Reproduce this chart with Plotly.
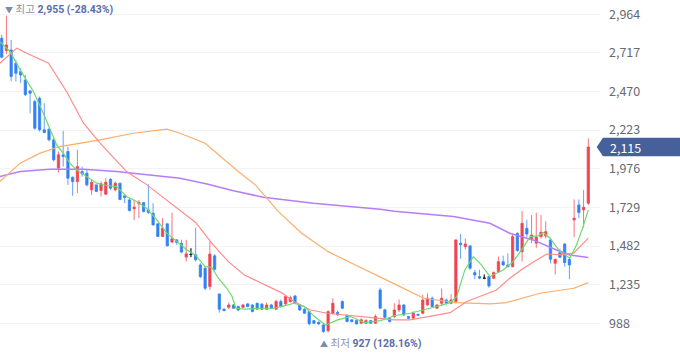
import plotly.graph_objects as go

# ---------------- data ----------------
opens = [2811, 2732, 2736, 2651, 2598, 2544, 2474, 2406, 2427, 2225,
         2229, 2161, 1980, 2065, 2086, 1922, 1894, 1958, 1948, 1841,
         1873, 1837, 1813, 1909, 1841, 1884, 1803, 1777, 1720, 1752,
         1760, 1713, 1692, 1624, 1543, 1624, 1507, 1522, 1500, 1411,
         1428, 1426, 1361, 1340, 1223, 1419, 1176, 1078, 1090, 1105,
         1095, 1090, 1112, 1105, 1116, 1110, 1078, 1105, 1078, 1127,
         1112, 1127, 1163, 1105, 1078, 1063, 1005, 995, 977, 940,
         1052, 1058, 1127, 1037, 1010, 1005, 988, 988, 1005, 988,
         1201, 1074, 1020, 1031, 1073, 1105, 1031, 1020, 1045, 1052,
         1105, 1148, 1084, 1116, 1137, 1116, 1127, 1500, 1478, 1483,
         1312, 1287, 1276, 1287, 1276, 1318, 1382, 1361, 1350, 1563,
         1446, 1595, 1525, 1500, 1542, 1546, 1521, 1372, 1440, 1495,
         1397, 1649, 1745, 1713, 1755]
highs = [2832, 2955, 2800, 2672, 2619, 2576, 2474, 2417, 2438, 2395,
         2235, 2172, 2086, 2218, 2118, 1926, 2097, 1990, 1969, 1905,
         1873, 1895, 1916, 1916, 1895, 1884, 1803, 1788, 1777, 1777,
         1760, 1877, 1756, 1628, 1660, 1628, 1696, 1522, 1522, 1522,
         1468, 1600, 1372, 1350, 1510, 1430, 1176, 1085, 1120, 1110,
         1100, 1112, 1118, 1110, 1120, 1118, 1120, 1112, 1140, 1140,
         1170, 1165, 1170, 1112, 1084, 1068, 1010, 1000, 983, 1070,
         1148, 1070, 1135, 1045, 1015, 1010, 1020, 1015, 1010, 1045,
         1215, 1080, 1025, 1116, 1140, 1110, 1035, 1065, 1050, 1170,
         1180, 1160, 1110, 1210, 1145, 1175, 1525, 1560, 1530, 1485,
         1330, 1330, 1300, 1290, 1320, 1415, 1420, 1435, 1560, 1570,
         1706, 1650, 1680, 1695, 1680, 1640, 1530, 1400, 1465, 1500,
         1410, 1780, 1780, 1840, 2170]
lows = [2683, 2710, 2534, 2534, 2523, 2442, 2331, 2225, 2214, 2203,
        2150, 2022, 1952, 1990, 1873, 1803, 1820, 1926, 1862, 1809,
        1826, 1799, 1809, 1841, 1831, 1775, 1756, 1703, 1649, 1660,
        1696, 1688, 1615, 1540, 1540, 1479, 1500, 1490, 1436, 1383,
        1411, 1383, 1276, 1200, 1201, 1325, 1056, 1065, 1078, 1080,
        1065, 1085, 1090, 1058, 1075, 1073, 1073, 1080, 1075, 1090,
        1100, 1120, 1110, 1068, 1048, 975, 985, 978, 927, 930,
        1045, 1035, 1078, 995, 993, 980, 985, 985, 984, 984,
        1080, 1020, 993, 1020, 1060, 1035, 1010, 1015, 1035, 1045,
        1100, 1090, 1080, 1100, 1110, 1110, 1115, 1400, 1460, 1330,
        1270, 1270, 1270, 1215, 1270, 1310, 1355, 1345, 1345, 1445,
        1382, 1540, 1500, 1470, 1530, 1530, 1370, 1300, 1405, 1350,
        1270, 1540, 1660, 1600, 1745]
closes = [2689, 2768, 2566, 2587, 2576, 2449, 2459, 2235, 2225, 2208,
          2161, 2033, 2065, 2054, 1916, 1894, 1990, 1943, 1873, 1890,
          1831, 1880, 1890, 1852, 1884, 1780, 1792, 1709, 1730, 1762,
          1703, 1696, 1617, 1543, 1596, 1483, 1528, 1505, 1443, 1432,
          1428, 1394, 1286, 1212, 1431, 1333, 1078, 1069, 1105, 1084,
          1073, 1105, 1095, 1063, 1078, 1078, 1105, 1084, 1127, 1095,
          1159, 1152, 1116, 1073, 1052, 985, 988, 984, 935, 1063,
          1116, 1042, 1084, 999, 999, 984, 1010, 1005, 988, 1031,
          1084, 1026, 999, 1073, 1105, 1041, 1020, 1052, 1040, 1137,
          1148, 1095, 1105, 1148, 1116, 1137, 1521, 1490, 1495, 1340,
          1297, 1276, 1276, 1227, 1312, 1382, 1361, 1350, 1542, 1453,
          1627, 1559, 1553, 1538, 1570, 1574, 1397, 1397, 1410, 1376,
          1361, 1660, 1696, 1730, 2115]
days = list(range(len(closes)))

# moving-average lines (vertices: day index, price)
ma5_x = [-0.4, 1.75, 3.9, 6.7, 8.8, 10.2, 11.6, 13, 14.4, 15.8, 17.9, 20.1, 22.2, 24.3,
         26.4, 28.5, 30.6, 32.8, 34.9, 37, 39.1, 40.9, 43, 44.4, 45.8, 47.6, 48.7, 49.5,
         51.3, 54.8, 57.6, 59.7, 61.8, 64, 66.1, 68.5, 71, 73.8, 76.6, 80.1, 83, 86.3,
         89.2, 92, 94.8, 96.2, 97.9, 99.7, 101.4, 103.2, 106, 108.1, 109.9, 111.7, 113.4,
         114.5, 115.9, 118, 120.1, 121.5, 122.9, 124]
ma5_y = [2789, 2726, 2608, 2470, 2331, 2225, 2129, 2076, 2012, 1969, 1926, 1884, 1869, 1862,
         1799, 1767, 1724, 1649, 1564, 1511, 1458, 1425, 1350, 1346, 1276, 1212, 1159, 1084,
         1078, 1084, 1084, 1099, 1116, 1095, 1031, 977, 1010, 1031, 992, 1005, 1036, 1052,
         1073, 1095, 1120, 1159, 1329, 1414, 1361, 1287, 1329, 1382, 1457, 1542, 1547,
         1568, 1532, 1446, 1404, 1489, 1606, 1713]
ma20_x = [-0.4, 3.2, 5.3, 9.9, 13.7, 17.3, 20.8, 26.4, 30.7, 36.3, 41, 44.4, 47.9, 51.3,
          54.8, 59.1, 61.8, 65.3, 68.8, 72.4, 75.9, 79.4, 83, 86.3, 90.6, 94.8, 98.3, 101.8,
          104.6, 107.4, 110.3, 113.1, 115.2, 118, 120.9, 124]
ma20_y = [2651, 2747, 2715, 2651, 2470, 2267, 2140, 1958, 1873, 1745, 1633, 1500, 1382, 1297,
          1244, 1184, 1127, 1073, 1052, 1042, 1031, 1020, 1010, 1010, 1031, 1056, 1127, 1169,
          1201, 1276, 1340, 1393, 1431, 1425, 1436, 1532]
ma60_x = [-0.4, 3.9, 8.1, 12.3, 20.8, 27.8, 34.9, 37.7, 43, 50, 53.6, 58.5, 63.4, 69, 74,
          79.6, 83, 89.2, 96.2, 103.2, 106.7, 113.8, 120.9, 124]
ma60_y = [1894, 2012, 2076, 2118, 2161, 2203, 2229, 2203, 2139, 1958, 1873, 1702, 1564, 1446,
          1372, 1287, 1240, 1148, 1120, 1112, 1120, 1180, 1212, 1248]
ma120_x = [-0.4, 3.9, 10.2, 17.3, 24.3, 31.4, 37.7, 43.4, 49, 55.3, 65.9, 80, 83, 95.5,
           103.2, 107.4, 112.3, 117.3, 120.1, 124]
ma120_y = [1926, 1958, 1973, 1973, 1958, 1936, 1915, 1879, 1836, 1794, 1755, 1717, 1704, 1670,
           1627, 1564, 1521, 1457, 1425, 1408]

y_ticks = [988, 1235, 1482, 1729, 1976, 2223, 2470, 2717, 2964]
tick_text = ["988", "1,235", "1,482", "1,729", "1,976", "2,223", "2,470", "2,717", "2,964"]

high_idx, high_val, high_pct = 1, 2955, "-28.43%"
low_idx, low_val, low_pct = 68, 927, "128.16%"
last_val = closes[-1]

# ---------------- figure ----------------
RED = "#f04452"
BLUE = "#3182f6"
FONT = "Noto Sans CJK KR, Noto Sans, sans-serif"
NOTE_FONT = "Roboto, Noto Sans CJK KR, sans-serif"

fig = go.Figure()

for xs, ys, col, w in [(ma120_x, ma120_y, "#b57ef6", 1.5),
                       (ma60_x, ma60_y, "#fbae6a", 1.2),
                       (ma20_x, ma20_y, "#ff8b8b", 1.2),
                       (ma5_x, ma5_y, "#6fd86f", 1.2)]:
    fig.add_trace(go.Scatter(x=xs, y=ys, mode="lines",
                             line=dict(color=col, width=w), hoverinfo="skip"))

fig.add_trace(go.Candlestick(
    x=days, open=opens, high=highs, low=lows, close=closes,
    increasing=dict(line=dict(color="rgba(240,68,82,0.75)", width=1), fillcolor=RED),
    decreasing=dict(line=dict(color="rgba(49,130,246,0.75)", width=1), fillcolor=BLUE),
    whiskerwidth=0, hoverinfo="skip"))

# unchanged (open == close) candles in black
flat = [i for i in days if opens[i] == closes[i]]
if flat:
    fig.add_trace(go.Candlestick(
        x=flat, open=[opens[i] for i in flat], high=[highs[i] for i in flat],
        low=[lows[i] for i in flat], close=[closes[i] for i in flat],
        increasing=dict(line=dict(color="#222222", width=1), fillcolor="#222222"),
        decreasing=dict(line=dict(color="#222222", width=1), fillcolor="#222222"),
        whiskerwidth=0, hoverinfo="skip"))

# last price tag
W = 600.0
tip = 596.7 / W
body_l = 603.0 / W
right = 680.0 / W
half = 9.2 / 0.1564
fig.add_shape(type="path", xref="paper", yref="y",
              path=(f"M {tip},{last_val} L {body_l},{last_val - half} L {right},{last_val - half} "
                    f"L {right},{last_val + half} L {body_l},{last_val + half} Z"),
              fillcolor="#46609c", line=dict(width=0), layer="above")
fig.add_annotation(x=608.0 / W, xref="paper", y=last_val, yref="y",
                   text=f"{last_val:,}", showarrow=False, xanchor="left", yanchor="middle",
                   font=dict(family=FONT, size=12.5, color="white"))

fig.add_annotation(x=high_idx, xref="x", y=1 - 9 / 358, yref="paper", xshift=-3,
                   text=(f"<span style='font-size:8px;color:#7d8aa8'>▼</span> "
                         f"<span style='color:#8b95a1'>최고</span> "
                         f"<b>{high_val:,} ({high_pct})</b>"),
                   showarrow=False, xanchor="left", yanchor="middle",
                   font=dict(family=NOTE_FONT, size=10.5, color="#5a6ea8"))
fig.add_annotation(x=low_idx, xref="x", y=1 - 343 / 358, yref="paper", xshift=-5,
                   text=(f"<span style='font-size:8px;color:#7d8aa8'>▲</span> "
                         f"<span style='color:#8b95a1'>최저</span> "
                         f"<b>{low_val:,} ({low_pct})</b>"),
                   showarrow=False, xanchor="left", yanchor="middle",
                   font=dict(family=NOTE_FONT, size=10.5, color="#5a6ea8"))

fig.update_layout(
    width=680, height=358,
    margin=dict(l=0, r=80, t=0, b=0),
    paper_bgcolor="white", plot_bgcolor="white",
    showlegend=False,
    xaxis=dict(visible=False, range=[-0.36, 126.47], rangeslider=dict(visible=False)),
    yaxis=dict(side="right", range=[766, 3055], tickvals=y_ticks, ticktext=tick_text,
               showgrid=True, gridcolor="#f2f3f7", gridwidth=1, zeroline=False,
               showline=False, ticks="", ticklabelstandoff=8,
               tickfont=dict(family=FONT, size=12.5, color="#666b73")),
)

fig.write_html("out.html", config={"displayModeBar": False},
               post_script="document.body.style.margin='0px';")
